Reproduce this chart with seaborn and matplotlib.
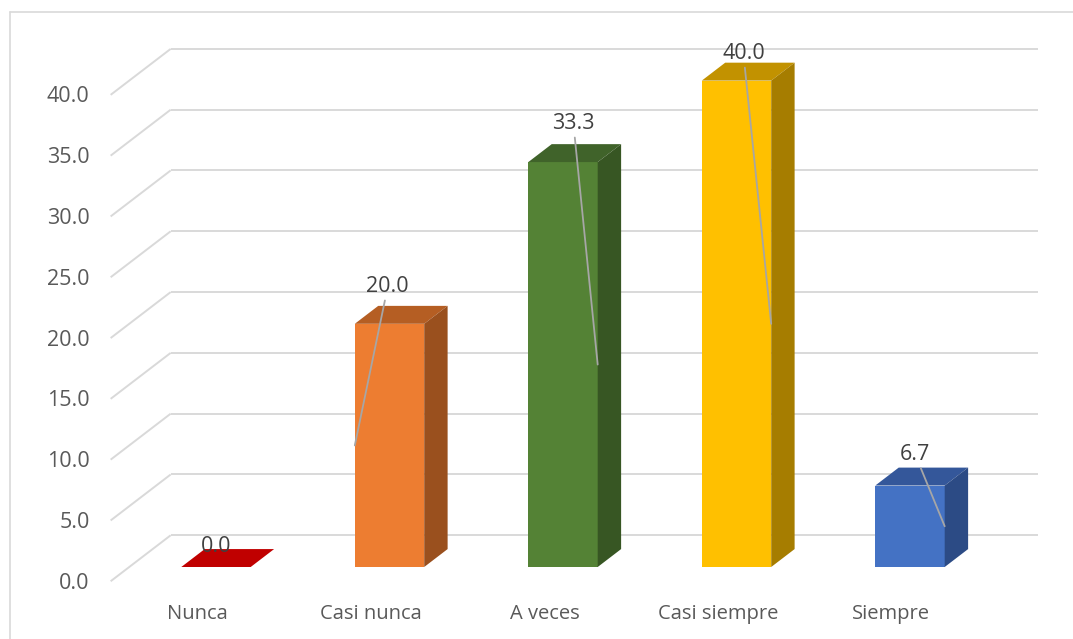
import matplotlib
matplotlib.use("Agg")
import matplotlib.pyplot as plt
from matplotlib.patches import Polygon
from matplotlib.lines import Line2D
import seaborn as sns
import pandas as pd

# ---------------- data ----------------
categories = ["Nunca", "Casi nunca", "A veces", "Casi siempre", "Siempre"]
values = [0.0, 20.0, 33.3, 40.0, 6.7]
value_labels = ["0.0", "20.0", "33.3", "40.0", "6.7"]
yticks = [0, 5, 10, 15, 20, 25, 30, 35, 40]
ytick_labels = ["0.0", "5.0", "10.0", "15.0", "20.0", "25.0", "30.0", "35.0", "40.0"]

# ---------------- style / layout ----------------
front_colors = ["#C00000", "#ED7D31", "#548235", "#FFC000", "#4472C4"]
top_colors = ["#C00000", "#B55E23", "#40632A", "#C29200", "#34579A"]
side_colors = ["#A00000", "#9A501E", "#375623", "#A67D00", "#2C4B85"]
label_dx = [0.0, -0.01, 0.06, 0.04, 0.03]      # data-label placement (category units)
label_dy = [1.65, 3.05, 3.15, 2.2, 2.55]       # data-label placement (value units)
leader_side = [None, -1, 1, 1, 1]              # which bar edge the leader line reaches

W, H = 1073, 639
BAR_W = 0.4
# oblique projection offsets (category units, value units)
DEPTH_X, DEPTH_Y = 0.346, 3.78          # full floor depth
BAR_Z0, BAR_DZ = 0.31, 0.39             # bar front position / bar depth (fractions)
FX, FY = -BAR_Z0 * DEPTH_X, -BAR_Z0 * DEPTH_Y                 # front plane
BX, BY = (1 - BAR_Z0) * DEPTH_X, (1 - BAR_Z0) * DEPTH_Y       # back wall
DXb, DYb = BAR_DZ * DEPTH_X, BAR_DZ * DEPTH_Y                 # bar depth

grid_c = "#D9D9D9"
text_c = "#595959"
label_c = "#404040"
FONT = ["Open Sans", "DejaVu Sans"]
FS_NUM = 15.5
FS_CAT = 14.5

sns.set_style("white")
plt.rcParams["font.family"] = FONT

fig = plt.figure(figsize=(W / 100, H / 100), dpi=100)
ax = fig.add_axes([0, 0, 1, 1])

df = pd.DataFrame({"cat": categories, "val": values})
sns.barplot(data=df, x="cat", y="val", hue="cat", palette=front_colors,
            saturation=1, width=BAR_W, legend=False, ax=ax, zorder=3,
            linewidth=0)

n = len(categories)
# back wall gridlines + left side diagonals
for t in yticks:
    ax.plot([FX - 0.5, BX - 0.5], [t + FY, t + BY], color=grid_c, lw=1.4,
            zorder=1, solid_capstyle="butt")
    ax.plot([BX - 0.5, BX + n - 0.5], [t + BY, t + BY], color=grid_c, lw=1.4,
            zorder=1, solid_capstyle="butt")

# 3D faces from seaborn bar patches
for i, p in enumerate(ax.patches[:n]):
    x0, w, h = p.get_x(), p.get_width(), p.get_height()
    top = Polygon([(x0, h), (x0 + w, h), (x0 + w + DXb, h + DYb), (x0 + DXb, h + DYb)],
                  closed=True, facecolor=top_colors[i], edgecolor="none", zorder=3)
    ax.add_patch(top)
    if h > 0:
        side = Polygon([(x0 + w, 0), (x0 + w + DXb, DYb), (x0 + w + DXb, h + DYb), (x0 + w, h)],
                       closed=True, facecolor=side_colors[i], edgecolor="none", zorder=3)
        ax.add_patch(side)

# y tick labels on the front plane
for t, lab in zip(yticks, ytick_labels):
    ax.annotate(lab, xy=(FX - 0.5, t + FY), xytext=(-21, -2), textcoords="offset pixels",
                ha="right", va="center", fontsize=FS_NUM, color=text_c)

# category labels
for i, c in enumerate(categories):
    ax.annotate(c, xy=(i + FX, FY), xytext=(0, -33), textcoords="offset pixels",
                ha="center", va="center", fontsize=FS_CAT, color=text_c)

# data labels with leader lines
for i, (v, lab) in enumerate(zip(values, value_labels)):
    pos = (i + label_dx[i], v + label_dy[i])
    if leader_side[i] is None:
        ax.text(pos[0], pos[1], lab, ha="center", va="center", fontsize=FS_NUM,
                color=label_c, zorder=5)
    else:
        target = (i + leader_side[i] * BAR_W / 2, v / 2)
        ax.annotate(lab, xy=target, xytext=pos, ha="center", va="center",
                    fontsize=FS_NUM, color=label_c, zorder=5,
                    arrowprops=dict(arrowstyle="-", color="#A6A6A6", lw=1.3,
                                    shrinkA=0, shrinkB=0))

ax.set_xlim((0 - 216) / 173.5, (W - 216) / 173.5)
ax.set_ylim((567 - H) / 12.16, 567 / 12.16)
ax.axis("off")

# chart area border (left and top edges visible)
fig.add_artist(Line2D([10 / W, 10 / W], [0, 1 - 12 / H], transform=fig.transFigure,
                      color=grid_c, lw=1.2))
fig.add_artist(Line2D([10 / W, 1], [1 - 12 / H, 1 - 12 / H], transform=fig.transFigure,
                      color=grid_c, lw=1.2))

fig.savefig("out.png", dpi=100)
